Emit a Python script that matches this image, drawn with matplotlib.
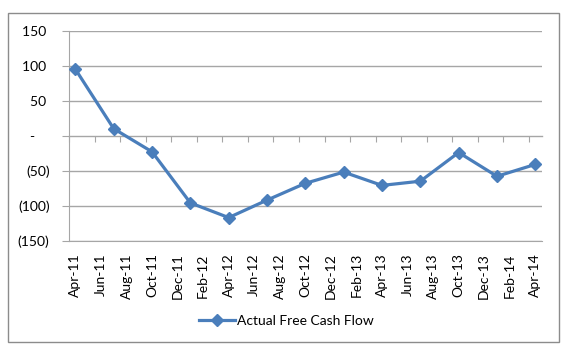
import matplotlib
matplotlib.use("Agg")
import matplotlib.pyplot as plt
import pandas as pd
from matplotlib.ticker import FixedLocator, FuncFormatter
from matplotlib.patches import Rectangle

plt.rcParams['font.family'] = ['Lato', 'DejaVu Sans']

# ---- data ----
axis_labels = ['Apr-11', 'Jun-11', 'Aug-11', 'Oct-11', 'Dec-11', 'Feb-12', 'Apr-12',
               'Jun-12', 'Aug-12', 'Oct-12', 'Dec-12', 'Feb-13', 'Apr-13', 'Jun-13',
               'Aug-13', 'Oct-13', 'Dec-13', 'Feb-14', 'Apr-14']
point_dates = ['Apr-11', 'Jul-11', 'Oct-11', 'Jan-12', 'Apr-12', 'Jul-12', 'Oct-12',
               'Jan-13', 'Apr-13', 'Jul-13', 'Oct-13', 'Jan-14', 'Apr-14']
free_cash_flow = [95, 10, -23, -96, -117, -92, -68, -52, -71, -65, -24, -58, -41]
series_name = 'Actual Free Cash Flow'
y_ticks = [-150, -100, -50, 0, 50, 100, 150]

start = pd.to_datetime(axis_labels[0], format='%b-%y')


def month_index(s):
    d = pd.to_datetime(s, format='%b-%y')
    return (d.year - start.year) * 12 + (d.month - start.month)


n_months = month_index(axis_labels[-1]) + 1
x_pts = [month_index(d) + 0.5 for d in point_dates]
x_lab = [month_index(d) + 0.5 for d in axis_labels]
x_bound = [month_index(d) for d in axis_labels]

W, H = 574, 357
fig = plt.figure(figsize=(W / 100, H / 100), dpi=100)
fig.patch.set_facecolor('white')

# outer border
fig.add_artist(Rectangle((8 / W, 1 - 342 / H), (559 - 8) / W, (342 - 13) / H,
                         transform=fig.transFigure, fill=False,
                         edgecolor='#8c8c8c', linewidth=1.0))

ax = fig.add_axes([69 / W, 1 - 240.7 / H, (541.7 - 69) / W, (240.7 - 30.7) / H])
grid_c = '#a6a6a6'
line_c = '#4a7ebb'

ax.set_xlim(0, n_months)
ax.set_ylim(y_ticks[0], y_ticks[-1])

for v in y_ticks:
    if v != 0:
        ax.axhline(v, color=grid_c, linewidth=1.0, zorder=1)

ax.plot(x_pts, free_cash_flow, color=line_c, linewidth=2.3, marker='D',
        markersize=6.5, zorder=3, label=series_name)

for s in ['top', 'right']:
    ax.spines[s].set_visible(False)
ax.spines['left'].set_color(grid_c)
ax.spines['bottom'].set_color(grid_c)


def fmt(v, pos):
    if v == 0:
        return '-    '
    if v < 0:
        return '({:,.0f})'.format(-v)
    return '{:,.0f} '.format(v)


ax.yaxis.set_major_locator(FixedLocator(y_ticks))
ax.yaxis.set_major_formatter(FuncFormatter(fmt))
ax.tick_params(axis='y', length=5, color=grid_c, pad=9, labelsize=10, labelcolor='black')

ax.set_xticks(x_lab)
ax.set_xticklabels(axis_labels, rotation=90)
ax.tick_params(axis='x', length=0, pad=9, labelsize=10, labelcolor='black')

# zero axis with tick marks
sec = ax.secondary_xaxis(0, transform=ax.transData)
sec.set_xticks(x_bound)
sec.set_xticklabels([])
sec.tick_params(axis='x', length=4, color=grid_c, direction='out')
sec.spines['bottom'].set_color(grid_c)
sec.spines['bottom'].set_linewidth(1.0)

leg = fig.legend(loc='center', bbox_to_anchor=(286 / W, 1 - 320.7 / H), frameon=False,
                 fontsize=10, handlelength=2.6, handletextpad=0.15, markerscale=0.9)

fig.savefig('out.png', dpi=100, facecolor='white')
